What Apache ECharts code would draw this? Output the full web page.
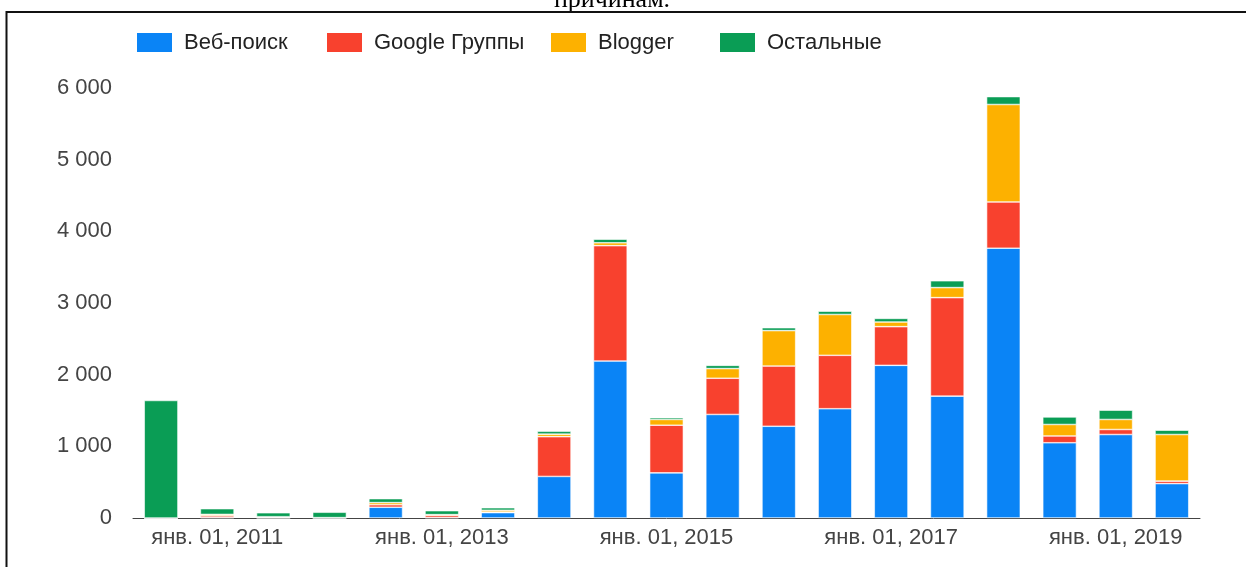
<!DOCTYPE html>
<html>
<head>
    <meta charset="UTF-8"/>
    <title>chart</title>
    <script type="text/javascript" src="https://cdn.jsdelivr.net/npm/echarts@6/dist/echarts.min.js"></script>
    <style>
        html, body { margin: 0; padding: 0; background: #fff; }
        #chart { width: 1246px; height: 567px; }
    </style>
</head>
<body>
<div id="chart"></div>
<script>
    // полугодия: июль 2010 ... июль 2019
    var categories = [
        'июл. 01, 2010', 'янв. 01, 2011', 'июл. 01, 2011', 'янв. 01, 2012', 'июл. 01, 2012',
        'янв. 01, 2013', 'июл. 01, 2013', 'янв. 01, 2014', 'июл. 01, 2014', 'янв. 01, 2015',
        'июл. 01, 2015', 'янв. 01, 2016', 'июл. 01, 2016', 'янв. 01, 2017', 'июл. 01, 2017',
        'янв. 01, 2018', 'июл. 01, 2018', 'янв. 01, 2019', 'июл. 01, 2019'
    ];
    var seriesNames = ['Веб-поиск', 'Google Группы', 'Blogger', 'Остальные'];
    var webSearch = [0, 5, 0, 0, 150, 5, 75, 580, 2190, 630, 1445, 1280, 1525, 2130, 1700, 3765, 1050, 1165, 480];
    var googleGroups = [0, 25, 10, 5, 35, 30, 8, 555, 1610, 665, 505, 840, 745, 540, 1375, 645, 95, 70, 35];
    var blogger = [0, 20, 8, 0, 30, 12, 25, 35, 40, 80, 135, 495, 570, 65, 140, 1360, 160, 140, 650];
    var others = [1640, 80, 55, 75, 55, 55, 35, 40, 50, 25, 45, 40, 45, 50, 95, 110, 105, 130, 60];
    var yTicks = [0, 1000, 2000, 3000, 4000, 5000, 6000];

    var colors = ['#0a84f6', '#f8412e', '#fdb100', '#0a9d55'];
    var legendLeft = [135, 325, 549, 718];
    var font = '"Liberation Sans", Arial, sans-serif';

    function fmt(v) {
        return String(v).replace(/\B(?=(\d{3})+(?!\d))/g, ' ');
    }

    var values = [webSearch, googleGroups, blogger, others];
    var series = [];
    var legends = [];
    for (var i = 0; i < values.length; i++) {
        series.push({
            name: seriesNames[i],
            type: 'bar',
            stack: 'total',
            barCategoryGap: '40%',
            data: values[i],
            itemStyle: {color: colors[i], borderColor: '#fff', borderWidth: 0.6}
        });
        legends.push({
            left: legendLeft[i],
            top: 31,
            padding: 0,
            itemWidth: 37,
            itemHeight: 21,
            icon: 'rect',
            textStyle: {fontFamily: font, fontSize: 22, color: '#222', padding: [0, 0, 0, 6]},
            data: [seriesNames[i]]
        });
    }

    var chart = echarts.init(document.getElementById('chart'));
    chart.setOption({
        animation: false,
        color: colors,
        grid: {left: 133, right: 46, top: 88, bottom: 49},
        legend: legends,
        xAxis: {
            type: 'category',
            data: categories,
            axisLine: {lineStyle: {color: '#444', width: 1}},
            axisTick: {show: false},
            axisLabel: {
                interval: function (i) { return i % 4 === 1; },
                margin: 9,
                fontFamily: font,
                fontSize: 22,
                color: '#444'
            }
        },
        yAxis: {
            type: 'value',
            min: yTicks[0],
            max: yTicks[yTicks.length - 1],
            interval: 1000,
            splitLine: {show: false},
            axisLine: {show: false},
            axisTick: {show: false},
            axisLabel: {
                margin: 21,
                fontFamily: font,
                fontSize: 22,
                color: '#444',
                formatter: fmt
            }
        },
        graphic: [
            {
                type: 'text',
                x: 612,
                y: 0,
                style: {
                    text: 'причинам.',
                    font: '26px "Liberation Serif", "Times New Roman", serif',
                    fill: '#000',
                    textAlign: 'center',
                    textVerticalAlign: 'middle'
                }
            },
            {type: 'line', shape: {x1: 6, y1: 12, x2: 1246, y2: 12}, style: {stroke: '#111', lineWidth: 2}},
            {type: 'line', shape: {x1: 6.5, y1: 11, x2: 6.5, y2: 567}, style: {stroke: '#111', lineWidth: 2}}
        ],
        series: series
    });
</script>
</body>
</html>
